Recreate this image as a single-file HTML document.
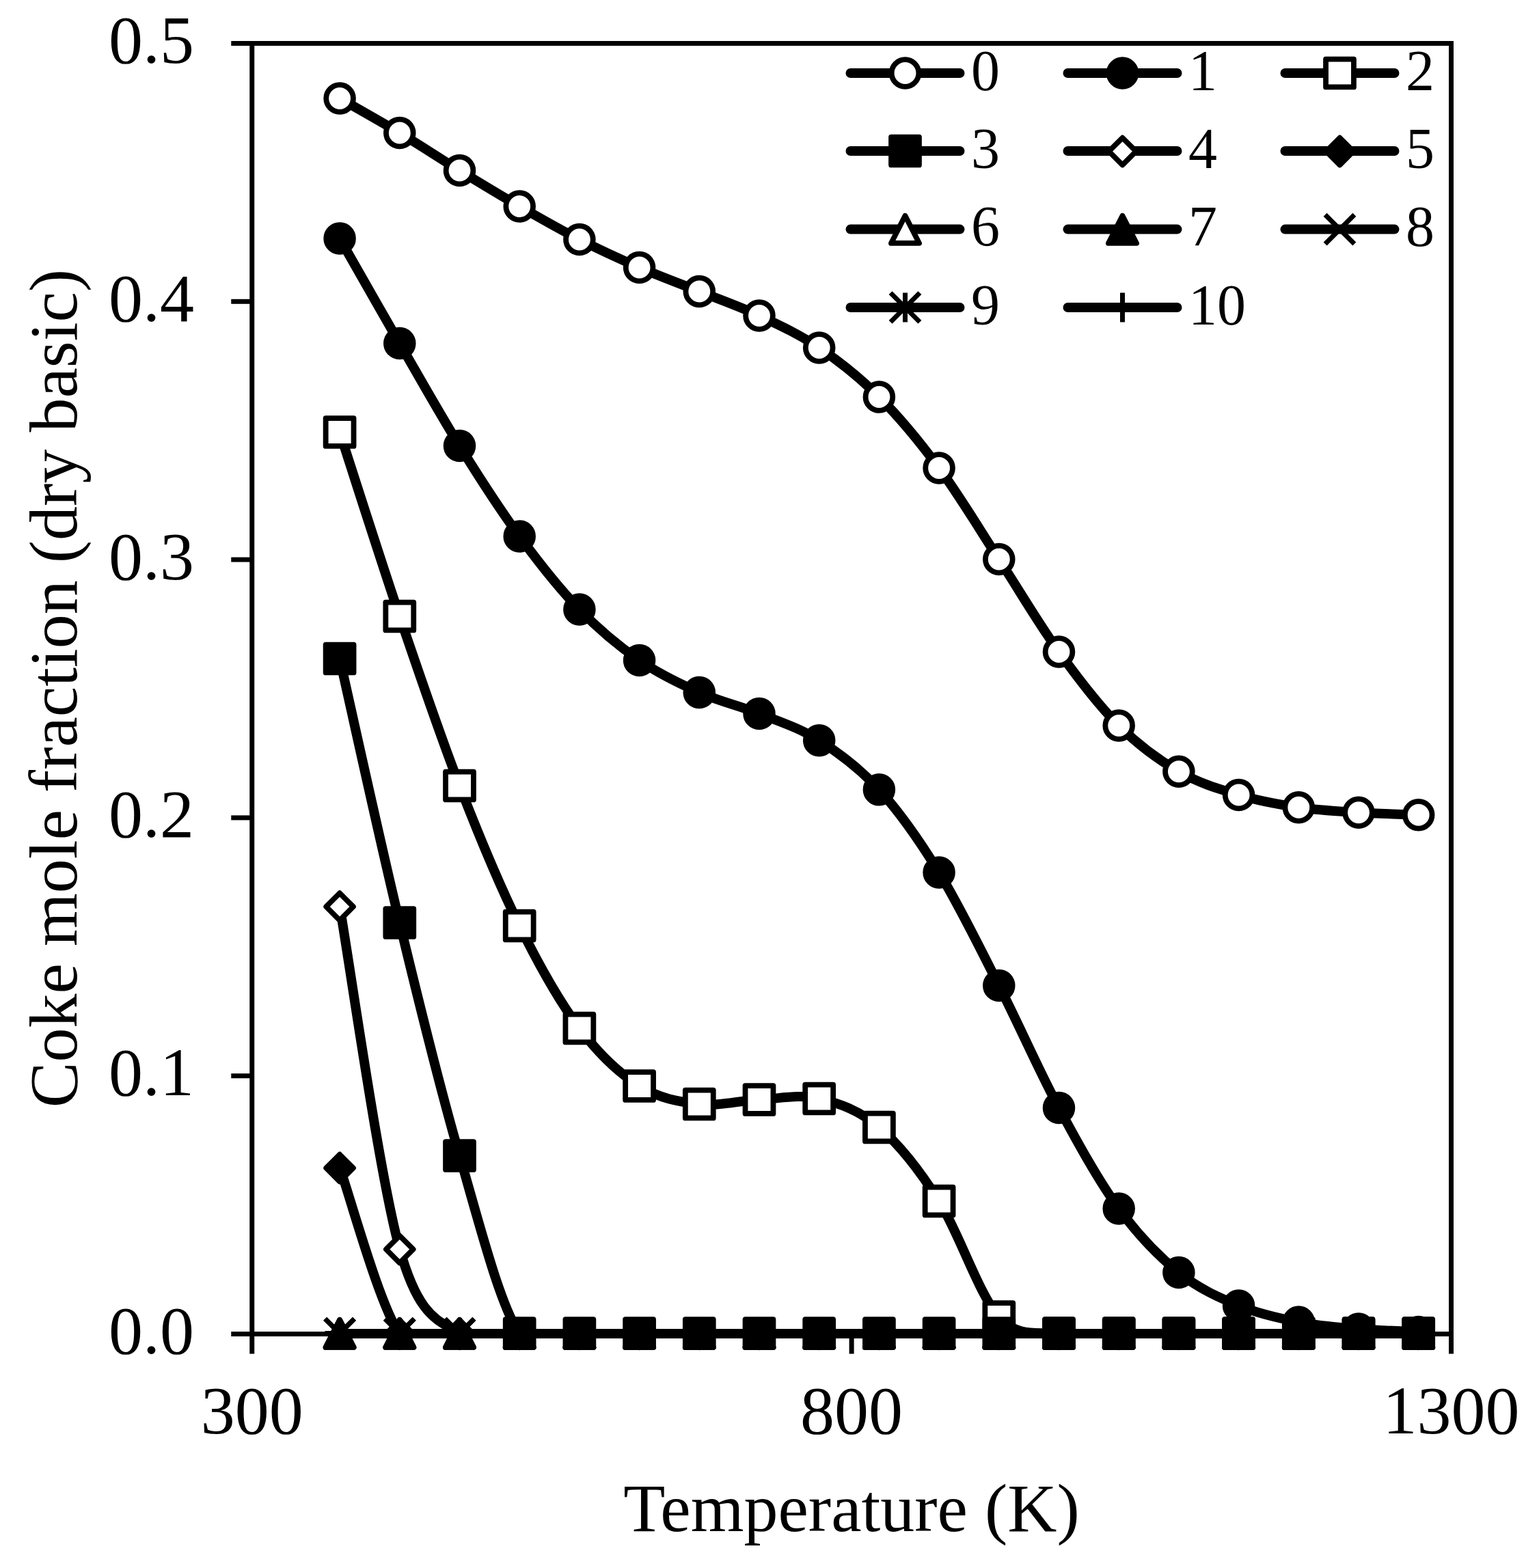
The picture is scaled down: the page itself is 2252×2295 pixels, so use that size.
<!DOCTYPE html>
<html lang="en"><head><meta charset="utf-8"><title>Coke mole fraction vs temperature</title>
<style>
html,body{margin:0;padding:0;background:#fff;}
body{width:2252px;height:2295px;overflow:hidden;}
svg{display:block;}
text{font-family:"Liberation Serif","Times New Roman",Times,serif;fill:#000;}
.ax{stroke:#000;stroke-width:7;fill:none;stroke-linecap:butt;}
.ln{stroke:#000;stroke-width:14;fill:none;stroke-linecap:round;stroke-linejoin:round;}
.lgl{stroke-width:14;}
.mo{stroke:#000;stroke-width:7.8;fill:#fff;stroke-linejoin:round;}
.mf{stroke:#000;stroke-width:7.8;fill:#000;stroke-linejoin:round;}
.ms{stroke:#000;stroke-width:7;fill:none;stroke-linecap:butt;}
.mp{stroke:#000;stroke-width:7;fill:none;stroke-linecap:butt;}
.tl{font-size:100px;}
.at{font-size:100px;}
.lg{font-size:84px;}
</style></head><body>
<svg width="2252" height="2295" viewBox="0 0 2252 2295">
<rect x="0" y="0" width="2252" height="2295" fill="#fff"/>
<g id="axes">
<path class="ax" d="M338.25 63.5H2127"/>
<path class="ax" d="M338.25 1952.5H2127"/>
<path class="ax" d="M368.75 60V1981.5"/>
<path class="ax" d="M2123.5 60V1981.5"/>
<path class="ax" d="M338.25 441.3H368.75"/>
<path class="ax" d="M338.25 819.1H368.75"/>
<path class="ax" d="M338.25 1196.9H368.75"/>
<path class="ax" d="M338.25 1574.7H368.75"/>
<path class="ax" d="M1246.12 1952.5V1981.5"/>
</g>
<g id="ticklabels" class="tl">
<text x="284" y="92" text-anchor="end">0.5</text>
<text x="284" y="469.8" text-anchor="end">0.4</text>
<text x="284" y="847.6" text-anchor="end">0.3</text>
<text x="284" y="1225.4" text-anchor="end">0.2</text>
<text x="284" y="1603.2" text-anchor="end">0.1</text>
<text x="284" y="1981" text-anchor="end">0.0</text>
<text x="368.75" y="2098" text-anchor="middle">300</text>
<text x="1246.12" y="2098" text-anchor="middle">800</text>
<text x="2123.5" y="2098" text-anchor="middle">1300</text>
</g>
<g id="titles" class="at">
<text x="1246" y="2240.5" text-anchor="middle">Temperature (K)</text>
<text transform="translate(112 1007.5) rotate(-90)" text-anchor="middle">Coke mole fraction (dry basic)</text>
</g>
<defs><clipPath id="plotclip"><rect x="368.75" y="63.5" width="1754.75" height="1895.25"/></clipPath></defs>
<g id="series0">
<path class="ln" clip-path="url(#plotclip)" d="M497.1 144C511.72 152.42 555.57 176.92 584.8 194.5C614.03 212.08 643.27 231.58 672.5 249.5C701.73 267.42 730.97 285.17 760.2 302C789.43 318.83 818.67 335.58 847.9 350.5C877.13 365.42 906.37 378.83 935.6 391.5C964.83 404.17 994.07 414.75 1023.3 426.5C1052.53 438.25 1081.77 448.25 1111 462C1140.23 475.75 1169.47 489.17 1198.7 509C1227.93 528.83 1257.17 551.67 1286.4 581C1315.63 610.33 1344.87 645.42 1374.1 685C1403.33 724.58 1432.57 773.67 1461.8 818.5C1491.03 863.33 1520.27 913.42 1549.5 954C1578.73 994.58 1607.97 1032.79 1637.2 1062C1666.43 1091.21 1695.67 1112.33 1724.9 1129.25C1754.13 1146.17 1783.37 1154.75 1812.6 1163.5C1841.83 1172.25 1871.07 1177.46 1900.3 1181.75C1929.53 1186.04 1958.77 1187.42 1988 1189.25C2017.23 1191.08 2061.08 1192.17 2075.7 1192.75"/>
<circle cx="497.1" cy="144" r="19.85" class="mo"/>
<circle cx="584.8" cy="194.5" r="19.85" class="mo"/>
<circle cx="672.5" cy="249.5" r="19.85" class="mo"/>
<circle cx="760.2" cy="302" r="19.85" class="mo"/>
<circle cx="847.9" cy="350.5" r="19.85" class="mo"/>
<circle cx="935.6" cy="391.5" r="19.85" class="mo"/>
<circle cx="1023.3" cy="426.5" r="19.85" class="mo"/>
<circle cx="1111" cy="462" r="19.85" class="mo"/>
<circle cx="1198.7" cy="509" r="19.85" class="mo"/>
<circle cx="1286.4" cy="581" r="19.85" class="mo"/>
<circle cx="1374.1" cy="685" r="19.85" class="mo"/>
<circle cx="1461.8" cy="818.5" r="19.85" class="mo"/>
<circle cx="1549.5" cy="954" r="19.85" class="mo"/>
<circle cx="1637.2" cy="1062" r="19.85" class="mo"/>
<circle cx="1724.9" cy="1129.25" r="19.85" class="mo"/>
<circle cx="1812.6" cy="1163.5" r="19.85" class="mo"/>
<circle cx="1900.3" cy="1181.75" r="19.85" class="mo"/>
<circle cx="1988" cy="1189.25" r="19.85" class="mo"/>
<circle cx="2075.7" cy="1192.75" r="19.85" class="mo"/>
</g>
<g id="series1">
<path class="ln" clip-path="url(#plotclip)" d="M497.1 349C511.72 374.58 555.57 451.92 584.8 502.5C614.03 553.08 643.27 605.42 672.5 652.5C701.73 699.58 730.97 745.08 760.2 785C789.43 824.92 818.67 861.75 847.9 892C877.13 922.25 906.37 946.25 935.6 966.5C964.83 986.75 994.07 1000.5 1023.3 1013.5C1052.53 1026.5 1081.77 1032.79 1111 1044.5C1140.23 1056.21 1169.47 1065.21 1198.7 1083.75C1227.93 1102.29 1257.17 1123.54 1286.4 1155.75C1315.63 1187.96 1344.87 1229.21 1374.1 1277C1403.33 1324.79 1432.57 1385.08 1461.8 1442.5C1491.03 1499.92 1520.27 1567.08 1549.5 1621.5C1578.73 1675.92 1607.97 1728.83 1637.2 1769C1666.43 1809.17 1695.67 1838.83 1724.9 1862.5C1754.13 1886.17 1783.37 1898.92 1812.6 1911C1841.83 1923.08 1871.07 1929.33 1900.3 1935C1929.53 1940.67 1958.77 1942.58 1988 1945C2017.23 1947.42 2061.08 1948.75 2075.7 1949.5"/>
<circle cx="497.1" cy="349" r="19.85" class="mf"/>
<circle cx="584.8" cy="502.5" r="19.85" class="mf"/>
<circle cx="672.5" cy="652.5" r="19.85" class="mf"/>
<circle cx="760.2" cy="785" r="19.85" class="mf"/>
<circle cx="847.9" cy="892" r="19.85" class="mf"/>
<circle cx="935.6" cy="966.5" r="19.85" class="mf"/>
<circle cx="1023.3" cy="1013.5" r="19.85" class="mf"/>
<circle cx="1111" cy="1044.5" r="19.85" class="mf"/>
<circle cx="1198.7" cy="1083.75" r="19.85" class="mf"/>
<circle cx="1286.4" cy="1155.75" r="19.85" class="mf"/>
<circle cx="1374.1" cy="1277" r="19.85" class="mf"/>
<circle cx="1461.8" cy="1442.5" r="19.85" class="mf"/>
<circle cx="1549.5" cy="1621.5" r="19.85" class="mf"/>
<circle cx="1637.2" cy="1769" r="19.85" class="mf"/>
<circle cx="1724.9" cy="1862.5" r="19.85" class="mf"/>
<circle cx="1812.6" cy="1911" r="19.85" class="mf"/>
<circle cx="1900.3" cy="1935" r="19.85" class="mf"/>
<circle cx="1988" cy="1945" r="19.85" class="mf"/>
<circle cx="2075.7" cy="1949.5" r="19.85" class="mf"/>
</g>
<g id="series2">
<path class="ln" clip-path="url(#plotclip)" d="M497.1 632.5C511.72 677.42 555.57 815.75 584.8 902C614.03 988.25 643.27 1074.5 672.5 1150C701.73 1225.5 730.97 1295.83 760.2 1355C789.43 1414.17 818.67 1465.92 847.9 1505C877.13 1544.08 906.37 1571 935.6 1589.5C964.83 1608 994.07 1612.67 1023.3 1616C1052.53 1619.33 1081.77 1610.83 1111 1609.5C1140.23 1608.17 1169.47 1601.25 1198.7 1608C1227.93 1614.75 1257.17 1625 1286.4 1650C1315.63 1675 1344.87 1711.75 1374.1 1758C1403.33 1804.25 1432.57 1895.12 1461.8 1927.5C1491.03 1959.88 1520.27 1948.12 1549.5 1952.25C1578.73 1956.38 1607.97 1952.25 1637.2 1952.25C1666.43 1952.25 1695.67 1952.25 1724.9 1952.25C1754.13 1952.25 1783.37 1952.25 1812.6 1952.25C1841.83 1952.25 1871.07 1952.25 1900.3 1952.25C1929.53 1952.25 1958.77 1952.25 1988 1952.25C2017.23 1952.25 2061.08 1952.25 2075.7 1952.25"/>
<rect x="476.65" y="612.05" width="40.9" height="40.9" class="mo"/>
<rect x="564.35" y="881.55" width="40.9" height="40.9" class="mo"/>
<rect x="652.05" y="1129.55" width="40.9" height="40.9" class="mo"/>
<rect x="739.75" y="1334.55" width="40.9" height="40.9" class="mo"/>
<rect x="827.45" y="1484.55" width="40.9" height="40.9" class="mo"/>
<rect x="915.15" y="1569.05" width="40.9" height="40.9" class="mo"/>
<rect x="1002.85" y="1595.55" width="40.9" height="40.9" class="mo"/>
<rect x="1090.55" y="1589.05" width="40.9" height="40.9" class="mo"/>
<rect x="1178.25" y="1587.55" width="40.9" height="40.9" class="mo"/>
<rect x="1265.95" y="1629.55" width="40.9" height="40.9" class="mo"/>
<rect x="1353.65" y="1737.55" width="40.9" height="40.9" class="mo"/>
<rect x="1441.35" y="1907.05" width="40.9" height="40.9" class="mo"/>
<rect x="1529.05" y="1931.15" width="40.9" height="40.9" class="mo"/>
<rect x="1616.75" y="1931.15" width="40.9" height="40.9" class="mo"/>
<rect x="1704.45" y="1931.15" width="40.9" height="40.9" class="mo"/>
<rect x="1792.15" y="1931.15" width="40.9" height="40.9" class="mo"/>
<rect x="1879.85" y="1931.15" width="40.9" height="40.9" class="mo"/>
<rect x="1967.55" y="1931.15" width="40.9" height="40.9" class="mo"/>
<rect x="2055.25" y="1931.15" width="40.9" height="40.9" class="mo"/>
</g>
<g id="series3">
<path class="ln" clip-path="url(#plotclip)" d="M497.1 964C511.72 1028.42 555.57 1229.25 584.8 1350.5C614.03 1471.75 643.27 1591.21 672.5 1691.5C701.73 1791.79 730.97 1908.79 760.2 1952.25C789.43 1995.71 818.67 1952.25 847.9 1952.25C877.13 1952.25 906.37 1952.25 935.6 1952.25C964.83 1952.25 994.07 1952.25 1023.3 1952.25C1052.53 1952.25 1081.77 1952.25 1111 1952.25C1140.23 1952.25 1169.47 1952.25 1198.7 1952.25C1227.93 1952.25 1257.17 1952.25 1286.4 1952.25C1315.63 1952.25 1344.87 1952.25 1374.1 1952.25C1403.33 1952.25 1432.57 1952.25 1461.8 1952.25C1491.03 1952.25 1520.27 1952.25 1549.5 1952.25C1578.73 1952.25 1607.97 1952.25 1637.2 1952.25C1666.43 1952.25 1695.67 1952.25 1724.9 1952.25C1754.13 1952.25 1783.37 1952.25 1812.6 1952.25C1841.83 1952.25 1871.07 1952.25 1900.3 1952.25C1929.53 1952.25 1958.77 1952.25 1988 1952.25C2017.23 1952.25 2061.08 1952.25 2075.7 1952.25"/>
<rect x="476.65" y="943.55" width="40.9" height="40.9" class="mf"/>
<rect x="564.35" y="1330.05" width="40.9" height="40.9" class="mf"/>
<rect x="652.05" y="1671.05" width="40.9" height="40.9" class="mf"/>
<rect x="739.75" y="1931.15" width="40.9" height="40.9" class="mf"/>
<rect x="827.45" y="1931.15" width="40.9" height="40.9" class="mf"/>
<rect x="915.15" y="1931.15" width="40.9" height="40.9" class="mf"/>
<rect x="1002.85" y="1931.15" width="40.9" height="40.9" class="mf"/>
<rect x="1090.55" y="1931.15" width="40.9" height="40.9" class="mf"/>
<rect x="1178.25" y="1931.15" width="40.9" height="40.9" class="mf"/>
<rect x="1265.95" y="1931.15" width="40.9" height="40.9" class="mf"/>
<rect x="1353.65" y="1931.15" width="40.9" height="40.9" class="mf"/>
<rect x="1441.35" y="1931.15" width="40.9" height="40.9" class="mf"/>
<rect x="1529.05" y="1931.15" width="40.9" height="40.9" class="mf"/>
<rect x="1616.75" y="1931.15" width="40.9" height="40.9" class="mf"/>
<rect x="1704.45" y="1931.15" width="40.9" height="40.9" class="mf"/>
<rect x="1792.15" y="1931.15" width="40.9" height="40.9" class="mf"/>
<rect x="1879.85" y="1931.15" width="40.9" height="40.9" class="mf"/>
<rect x="1967.55" y="1931.15" width="40.9" height="40.9" class="mf"/>
<rect x="2055.25" y="1931.15" width="40.9" height="40.9" class="mf"/>
</g>
<g id="series4">
<path class="ln" clip-path="url(#plotclip)" d="M497.1 1326.5C511.72 1410.08 555.57 1723.71 584.8 1828C614.03 1932.29 643.27 1931.54 672.5 1952.25C701.73 1972.96 730.97 1952.25 760.2 1952.25C789.43 1952.25 818.67 1952.25 847.9 1952.25C877.13 1952.25 906.37 1952.25 935.6 1952.25C964.83 1952.25 994.07 1952.25 1023.3 1952.25C1052.53 1952.25 1081.77 1952.25 1111 1952.25C1140.23 1952.25 1169.47 1952.25 1198.7 1952.25C1227.93 1952.25 1257.17 1952.25 1286.4 1952.25C1315.63 1952.25 1344.87 1952.25 1374.1 1952.25C1403.33 1952.25 1432.57 1952.25 1461.8 1952.25C1491.03 1952.25 1520.27 1952.25 1549.5 1952.25C1578.73 1952.25 1607.97 1952.25 1637.2 1952.25C1666.43 1952.25 1695.67 1952.25 1724.9 1952.25C1754.13 1952.25 1783.37 1952.25 1812.6 1952.25C1841.83 1952.25 1871.07 1952.25 1900.3 1952.25C1929.53 1952.25 1958.77 1952.25 1988 1952.25C2017.23 1952.25 2061.08 1952.25 2075.7 1952.25"/>
<path d="M497.1 1307.25L516.95 1327.1L497.1 1346.95L477.25 1327.1Z" class="mo"/>
<path d="M584.8 1808.75L604.65 1828.6L584.8 1848.45L564.95 1828.6Z" class="mo"/>
<path d="M672.5 1932.35L692.35 1952.2L672.5 1972.05L652.65 1952.2Z" class="mo"/>
<path d="M760.2 1932.35L780.05 1952.2L760.2 1972.05L740.35 1952.2Z" class="mo"/>
<path d="M847.9 1932.35L867.75 1952.2L847.9 1972.05L828.05 1952.2Z" class="mo"/>
<path d="M935.6 1932.35L955.45 1952.2L935.6 1972.05L915.75 1952.2Z" class="mo"/>
<path d="M1023.3 1932.35L1043.15 1952.2L1023.3 1972.05L1003.45 1952.2Z" class="mo"/>
<path d="M1111 1932.35L1130.85 1952.2L1111 1972.05L1091.15 1952.2Z" class="mo"/>
<path d="M1198.7 1932.35L1218.55 1952.2L1198.7 1972.05L1178.85 1952.2Z" class="mo"/>
<path d="M1286.4 1932.35L1306.25 1952.2L1286.4 1972.05L1266.55 1952.2Z" class="mo"/>
<path d="M1374.1 1932.35L1393.95 1952.2L1374.1 1972.05L1354.25 1952.2Z" class="mo"/>
<path d="M1461.8 1932.35L1481.65 1952.2L1461.8 1972.05L1441.95 1952.2Z" class="mo"/>
<path d="M1549.5 1932.35L1569.35 1952.2L1549.5 1972.05L1529.65 1952.2Z" class="mo"/>
<path d="M1637.2 1932.35L1657.05 1952.2L1637.2 1972.05L1617.35 1952.2Z" class="mo"/>
<path d="M1724.9 1932.35L1744.75 1952.2L1724.9 1972.05L1705.05 1952.2Z" class="mo"/>
<path d="M1812.6 1932.35L1832.45 1952.2L1812.6 1972.05L1792.75 1952.2Z" class="mo"/>
<path d="M1900.3 1932.35L1920.15 1952.2L1900.3 1972.05L1880.45 1952.2Z" class="mo"/>
<path d="M1988 1932.35L2007.85 1952.2L1988 1972.05L1968.15 1952.2Z" class="mo"/>
<path d="M2075.7 1932.35L2095.55 1952.2L2075.7 1972.05L2055.85 1952.2Z" class="mo"/>
</g>
<g id="series5">
<path class="ln" clip-path="url(#plotclip)" d="M497.1 1709C511.72 1749.54 555.57 1911.71 584.8 1952.25C614.03 1992.79 643.27 1952.25 672.5 1952.25C701.73 1952.25 730.97 1952.25 760.2 1952.25C789.43 1952.25 818.67 1952.25 847.9 1952.25C877.13 1952.25 906.37 1952.25 935.6 1952.25C964.83 1952.25 994.07 1952.25 1023.3 1952.25C1052.53 1952.25 1081.77 1952.25 1111 1952.25C1140.23 1952.25 1169.47 1952.25 1198.7 1952.25C1227.93 1952.25 1257.17 1952.25 1286.4 1952.25C1315.63 1952.25 1344.87 1952.25 1374.1 1952.25C1403.33 1952.25 1432.57 1952.25 1461.8 1952.25C1491.03 1952.25 1520.27 1952.25 1549.5 1952.25C1578.73 1952.25 1607.97 1952.25 1637.2 1952.25C1666.43 1952.25 1695.67 1952.25 1724.9 1952.25C1754.13 1952.25 1783.37 1952.25 1812.6 1952.25C1841.83 1952.25 1871.07 1952.25 1900.3 1952.25C1929.53 1952.25 1958.77 1952.25 1988 1952.25C2017.23 1952.25 2061.08 1952.25 2075.7 1952.25"/>
<path d="M497.1 1689.75L516.95 1709.6L497.1 1729.45L477.25 1709.6Z" class="mf"/>
<path d="M584.8 1932.35L604.65 1952.2L584.8 1972.05L564.95 1952.2Z" class="mf"/>
<path d="M672.5 1932.35L692.35 1952.2L672.5 1972.05L652.65 1952.2Z" class="mf"/>
<path d="M760.2 1932.35L780.05 1952.2L760.2 1972.05L740.35 1952.2Z" class="mf"/>
<path d="M847.9 1932.35L867.75 1952.2L847.9 1972.05L828.05 1952.2Z" class="mf"/>
<path d="M935.6 1932.35L955.45 1952.2L935.6 1972.05L915.75 1952.2Z" class="mf"/>
<path d="M1023.3 1932.35L1043.15 1952.2L1023.3 1972.05L1003.45 1952.2Z" class="mf"/>
<path d="M1111 1932.35L1130.85 1952.2L1111 1972.05L1091.15 1952.2Z" class="mf"/>
<path d="M1198.7 1932.35L1218.55 1952.2L1198.7 1972.05L1178.85 1952.2Z" class="mf"/>
<path d="M1286.4 1932.35L1306.25 1952.2L1286.4 1972.05L1266.55 1952.2Z" class="mf"/>
<path d="M1374.1 1932.35L1393.95 1952.2L1374.1 1972.05L1354.25 1952.2Z" class="mf"/>
<path d="M1461.8 1932.35L1481.65 1952.2L1461.8 1972.05L1441.95 1952.2Z" class="mf"/>
<path d="M1549.5 1932.35L1569.35 1952.2L1549.5 1972.05L1529.65 1952.2Z" class="mf"/>
<path d="M1637.2 1932.35L1657.05 1952.2L1637.2 1972.05L1617.35 1952.2Z" class="mf"/>
<path d="M1724.9 1932.35L1744.75 1952.2L1724.9 1972.05L1705.05 1952.2Z" class="mf"/>
<path d="M1812.6 1932.35L1832.45 1952.2L1812.6 1972.05L1792.75 1952.2Z" class="mf"/>
<path d="M1900.3 1932.35L1920.15 1952.2L1900.3 1972.05L1880.45 1952.2Z" class="mf"/>
<path d="M1988 1932.35L2007.85 1952.2L1988 1972.05L1968.15 1952.2Z" class="mf"/>
<path d="M2075.7 1932.35L2095.55 1952.2L2075.7 1972.05L2055.85 1952.2Z" class="mf"/>
</g>
<g id="series6">
<path class="ln" clip-path="url(#plotclip)" d="M497.1 1952.25C511.72 1952.25 555.57 1952.25 584.8 1952.25C614.03 1952.25 643.27 1952.25 672.5 1952.25C701.73 1952.25 730.97 1952.25 760.2 1952.25C789.43 1952.25 818.67 1952.25 847.9 1952.25C877.13 1952.25 906.37 1952.25 935.6 1952.25C964.83 1952.25 994.07 1952.25 1023.3 1952.25C1052.53 1952.25 1081.77 1952.25 1111 1952.25C1140.23 1952.25 1169.47 1952.25 1198.7 1952.25C1227.93 1952.25 1257.17 1952.25 1286.4 1952.25C1315.63 1952.25 1344.87 1952.25 1374.1 1952.25C1403.33 1952.25 1432.57 1952.25 1461.8 1952.25C1491.03 1952.25 1520.27 1952.25 1549.5 1952.25C1578.73 1952.25 1607.97 1952.25 1637.2 1952.25C1666.43 1952.25 1695.67 1952.25 1724.9 1952.25C1754.13 1952.25 1783.37 1952.25 1812.6 1952.25C1841.83 1952.25 1871.07 1952.25 1900.3 1952.25C1929.53 1952.25 1958.77 1952.25 1988 1952.25C2017.23 1952.25 2061.08 1952.25 2075.7 1952.25"/>
<path d="M497.1 1931.75L517.65 1971.95L476.55 1971.95Z" class="mo"/>
<path d="M584.8 1931.75L605.35 1971.95L564.25 1971.95Z" class="mo"/>
<path d="M672.5 1931.75L693.05 1971.95L651.95 1971.95Z" class="mo"/>
<path d="M760.2 1931.75L780.75 1971.95L739.65 1971.95Z" class="mo"/>
<path d="M847.9 1931.75L868.45 1971.95L827.35 1971.95Z" class="mo"/>
<path d="M935.6 1931.75L956.15 1971.95L915.05 1971.95Z" class="mo"/>
<path d="M1023.3 1931.75L1043.85 1971.95L1002.75 1971.95Z" class="mo"/>
<path d="M1111 1931.75L1131.55 1971.95L1090.45 1971.95Z" class="mo"/>
<path d="M1198.7 1931.75L1219.25 1971.95L1178.15 1971.95Z" class="mo"/>
<path d="M1286.4 1931.75L1306.95 1971.95L1265.85 1971.95Z" class="mo"/>
<path d="M1374.1 1931.75L1394.65 1971.95L1353.55 1971.95Z" class="mo"/>
<path d="M1461.8 1931.75L1482.35 1971.95L1441.25 1971.95Z" class="mo"/>
<path d="M1549.5 1931.75L1570.05 1971.95L1528.95 1971.95Z" class="mo"/>
<path d="M1637.2 1931.75L1657.75 1971.95L1616.65 1971.95Z" class="mo"/>
<path d="M1724.9 1931.75L1745.45 1971.95L1704.35 1971.95Z" class="mo"/>
<path d="M1812.6 1931.75L1833.15 1971.95L1792.05 1971.95Z" class="mo"/>
<path d="M1900.3 1931.75L1920.85 1971.95L1879.75 1971.95Z" class="mo"/>
<path d="M1988 1931.75L2008.55 1971.95L1967.45 1971.95Z" class="mo"/>
<path d="M2075.7 1931.75L2096.25 1971.95L2055.15 1971.95Z" class="mo"/>
</g>
<g id="series7">
<path class="ln" clip-path="url(#plotclip)" d="M497.1 1952.25C511.72 1952.25 555.57 1952.25 584.8 1952.25C614.03 1952.25 643.27 1952.25 672.5 1952.25C701.73 1952.25 730.97 1952.25 760.2 1952.25C789.43 1952.25 818.67 1952.25 847.9 1952.25C877.13 1952.25 906.37 1952.25 935.6 1952.25C964.83 1952.25 994.07 1952.25 1023.3 1952.25C1052.53 1952.25 1081.77 1952.25 1111 1952.25C1140.23 1952.25 1169.47 1952.25 1198.7 1952.25C1227.93 1952.25 1257.17 1952.25 1286.4 1952.25C1315.63 1952.25 1344.87 1952.25 1374.1 1952.25C1403.33 1952.25 1432.57 1952.25 1461.8 1952.25C1491.03 1952.25 1520.27 1952.25 1549.5 1952.25C1578.73 1952.25 1607.97 1952.25 1637.2 1952.25C1666.43 1952.25 1695.67 1952.25 1724.9 1952.25C1754.13 1952.25 1783.37 1952.25 1812.6 1952.25C1841.83 1952.25 1871.07 1952.25 1900.3 1952.25C1929.53 1952.25 1958.77 1952.25 1988 1952.25C2017.23 1952.25 2061.08 1952.25 2075.7 1952.25"/>
<path d="M497.1 1931.75L517.65 1971.95L476.55 1971.95Z" class="mf"/>
<path d="M584.8 1931.75L605.35 1971.95L564.25 1971.95Z" class="mf"/>
<path d="M672.5 1931.75L693.05 1971.95L651.95 1971.95Z" class="mf"/>
<path d="M760.2 1931.75L780.75 1971.95L739.65 1971.95Z" class="mf"/>
<path d="M847.9 1931.75L868.45 1971.95L827.35 1971.95Z" class="mf"/>
<path d="M935.6 1931.75L956.15 1971.95L915.05 1971.95Z" class="mf"/>
<path d="M1023.3 1931.75L1043.85 1971.95L1002.75 1971.95Z" class="mf"/>
<path d="M1111 1931.75L1131.55 1971.95L1090.45 1971.95Z" class="mf"/>
<path d="M1198.7 1931.75L1219.25 1971.95L1178.15 1971.95Z" class="mf"/>
<path d="M1286.4 1931.75L1306.95 1971.95L1265.85 1971.95Z" class="mf"/>
<path d="M1374.1 1931.75L1394.65 1971.95L1353.55 1971.95Z" class="mf"/>
<path d="M1461.8 1931.75L1482.35 1971.95L1441.25 1971.95Z" class="mf"/>
<path d="M1549.5 1931.75L1570.05 1971.95L1528.95 1971.95Z" class="mf"/>
<path d="M1637.2 1931.75L1657.75 1971.95L1616.65 1971.95Z" class="mf"/>
<path d="M1724.9 1931.75L1745.45 1971.95L1704.35 1971.95Z" class="mf"/>
<path d="M1812.6 1931.75L1833.15 1971.95L1792.05 1971.95Z" class="mf"/>
<path d="M1900.3 1931.75L1920.85 1971.95L1879.75 1971.95Z" class="mf"/>
<path d="M1988 1931.75L2008.55 1971.95L1967.45 1971.95Z" class="mf"/>
<path d="M2075.7 1931.75L2096.25 1971.95L2055.15 1971.95Z" class="mf"/>
</g>
<g id="series8">
<path class="ln" clip-path="url(#plotclip)" d="M497.1 1952.25C511.72 1952.25 555.57 1952.25 584.8 1952.25C614.03 1952.25 643.27 1952.25 672.5 1952.25C701.73 1952.25 730.97 1952.25 760.2 1952.25C789.43 1952.25 818.67 1952.25 847.9 1952.25C877.13 1952.25 906.37 1952.25 935.6 1952.25C964.83 1952.25 994.07 1952.25 1023.3 1952.25C1052.53 1952.25 1081.77 1952.25 1111 1952.25C1140.23 1952.25 1169.47 1952.25 1198.7 1952.25C1227.93 1952.25 1257.17 1952.25 1286.4 1952.25C1315.63 1952.25 1344.87 1952.25 1374.1 1952.25C1403.33 1952.25 1432.57 1952.25 1461.8 1952.25C1491.03 1952.25 1520.27 1952.25 1549.5 1952.25C1578.73 1952.25 1607.97 1952.25 1637.2 1952.25C1666.43 1952.25 1695.67 1952.25 1724.9 1952.25C1754.13 1952.25 1783.37 1952.25 1812.6 1952.25C1841.83 1952.25 1871.07 1952.25 1900.3 1952.25C1929.53 1952.25 1958.77 1952.25 1988 1952.25C2017.23 1952.25 2061.08 1952.25 2075.7 1952.25"/>
<path d="M475.7 1930.2L518.5 1973M475.7 1973L518.5 1930.2" class="ms"/>
<path d="M563.4 1930.2L606.2 1973M563.4 1973L606.2 1930.2" class="ms"/>
<path d="M651.1 1930.2L693.9 1973M651.1 1973L693.9 1930.2" class="ms"/>
<path d="M738.8 1930.2L781.6 1973M738.8 1973L781.6 1930.2" class="ms"/>
<path d="M826.5 1930.2L869.3 1973M826.5 1973L869.3 1930.2" class="ms"/>
<path d="M914.2 1930.2L957 1973M914.2 1973L957 1930.2" class="ms"/>
<path d="M1001.9 1930.2L1044.7 1973M1001.9 1973L1044.7 1930.2" class="ms"/>
<path d="M1089.6 1930.2L1132.4 1973M1089.6 1973L1132.4 1930.2" class="ms"/>
<path d="M1177.3 1930.2L1220.1 1973M1177.3 1973L1220.1 1930.2" class="ms"/>
<path d="M1265 1930.2L1307.8 1973M1265 1973L1307.8 1930.2" class="ms"/>
<path d="M1352.7 1930.2L1395.5 1973M1352.7 1973L1395.5 1930.2" class="ms"/>
<path d="M1440.4 1930.2L1483.2 1973M1440.4 1973L1483.2 1930.2" class="ms"/>
<path d="M1528.1 1930.2L1570.9 1973M1528.1 1973L1570.9 1930.2" class="ms"/>
<path d="M1615.8 1930.2L1658.6 1973M1615.8 1973L1658.6 1930.2" class="ms"/>
<path d="M1703.5 1930.2L1746.3 1973M1703.5 1973L1746.3 1930.2" class="ms"/>
<path d="M1791.2 1930.2L1834 1973M1791.2 1973L1834 1930.2" class="ms"/>
<path d="M1878.9 1930.2L1921.7 1973M1878.9 1973L1921.7 1930.2" class="ms"/>
<path d="M1966.6 1930.2L2009.4 1973M1966.6 1973L2009.4 1930.2" class="ms"/>
<path d="M2054.3 1930.2L2097.1 1973M2054.3 1973L2097.1 1930.2" class="ms"/>
</g>
<g id="series9">
<path class="ln" clip-path="url(#plotclip)" d="M497.1 1952.25C511.72 1952.25 555.57 1952.25 584.8 1952.25C614.03 1952.25 643.27 1952.25 672.5 1952.25C701.73 1952.25 730.97 1952.25 760.2 1952.25C789.43 1952.25 818.67 1952.25 847.9 1952.25C877.13 1952.25 906.37 1952.25 935.6 1952.25C964.83 1952.25 994.07 1952.25 1023.3 1952.25C1052.53 1952.25 1081.77 1952.25 1111 1952.25C1140.23 1952.25 1169.47 1952.25 1198.7 1952.25C1227.93 1952.25 1257.17 1952.25 1286.4 1952.25C1315.63 1952.25 1344.87 1952.25 1374.1 1952.25C1403.33 1952.25 1432.57 1952.25 1461.8 1952.25C1491.03 1952.25 1520.27 1952.25 1549.5 1952.25C1578.73 1952.25 1607.97 1952.25 1637.2 1952.25C1666.43 1952.25 1695.67 1952.25 1724.9 1952.25C1754.13 1952.25 1783.37 1952.25 1812.6 1952.25C1841.83 1952.25 1871.07 1952.25 1900.3 1952.25C1929.53 1952.25 1958.77 1952.25 1988 1952.25C2017.23 1952.25 2061.08 1952.25 2075.7 1952.25"/>
<path d="M475.7 1930.2L518.5 1973M475.7 1973L518.5 1930.2M497.1 1930L497.1 1973.2" class="ms"/>
<path d="M563.4 1930.2L606.2 1973M563.4 1973L606.2 1930.2M584.8 1930L584.8 1973.2" class="ms"/>
<path d="M651.1 1930.2L693.9 1973M651.1 1973L693.9 1930.2M672.5 1930L672.5 1973.2" class="ms"/>
<path d="M738.8 1930.2L781.6 1973M738.8 1973L781.6 1930.2M760.2 1930L760.2 1973.2" class="ms"/>
<path d="M826.5 1930.2L869.3 1973M826.5 1973L869.3 1930.2M847.9 1930L847.9 1973.2" class="ms"/>
<path d="M914.2 1930.2L957 1973M914.2 1973L957 1930.2M935.6 1930L935.6 1973.2" class="ms"/>
<path d="M1001.9 1930.2L1044.7 1973M1001.9 1973L1044.7 1930.2M1023.3 1930L1023.3 1973.2" class="ms"/>
<path d="M1089.6 1930.2L1132.4 1973M1089.6 1973L1132.4 1930.2M1111 1930L1111 1973.2" class="ms"/>
<path d="M1177.3 1930.2L1220.1 1973M1177.3 1973L1220.1 1930.2M1198.7 1930L1198.7 1973.2" class="ms"/>
<path d="M1265 1930.2L1307.8 1973M1265 1973L1307.8 1930.2M1286.4 1930L1286.4 1973.2" class="ms"/>
<path d="M1352.7 1930.2L1395.5 1973M1352.7 1973L1395.5 1930.2M1374.1 1930L1374.1 1973.2" class="ms"/>
<path d="M1440.4 1930.2L1483.2 1973M1440.4 1973L1483.2 1930.2M1461.8 1930L1461.8 1973.2" class="ms"/>
<path d="M1528.1 1930.2L1570.9 1973M1528.1 1973L1570.9 1930.2M1549.5 1930L1549.5 1973.2" class="ms"/>
<path d="M1615.8 1930.2L1658.6 1973M1615.8 1973L1658.6 1930.2M1637.2 1930L1637.2 1973.2" class="ms"/>
<path d="M1703.5 1930.2L1746.3 1973M1703.5 1973L1746.3 1930.2M1724.9 1930L1724.9 1973.2" class="ms"/>
<path d="M1791.2 1930.2L1834 1973M1791.2 1973L1834 1930.2M1812.6 1930L1812.6 1973.2" class="ms"/>
<path d="M1878.9 1930.2L1921.7 1973M1878.9 1973L1921.7 1930.2M1900.3 1930L1900.3 1973.2" class="ms"/>
<path d="M1966.6 1930.2L2009.4 1973M1966.6 1973L2009.4 1930.2M1988 1930L1988 1973.2" class="ms"/>
<path d="M2054.3 1930.2L2097.1 1973M2054.3 1973L2097.1 1930.2M2075.7 1930L2075.7 1973.2" class="ms"/>
</g>
<g id="series10">
<path class="ln" clip-path="url(#plotclip)" d="M497.1 1952.25C511.72 1952.25 555.57 1952.25 584.8 1952.25C614.03 1952.25 643.27 1952.25 672.5 1952.25C701.73 1952.25 730.97 1952.25 760.2 1952.25C789.43 1952.25 818.67 1952.25 847.9 1952.25C877.13 1952.25 906.37 1952.25 935.6 1952.25C964.83 1952.25 994.07 1952.25 1023.3 1952.25C1052.53 1952.25 1081.77 1952.25 1111 1952.25C1140.23 1952.25 1169.47 1952.25 1198.7 1952.25C1227.93 1952.25 1257.17 1952.25 1286.4 1952.25C1315.63 1952.25 1344.87 1952.25 1374.1 1952.25C1403.33 1952.25 1432.57 1952.25 1461.8 1952.25C1491.03 1952.25 1520.27 1952.25 1549.5 1952.25C1578.73 1952.25 1607.97 1952.25 1637.2 1952.25C1666.43 1952.25 1695.67 1952.25 1724.9 1952.25C1754.13 1952.25 1783.37 1952.25 1812.6 1952.25C1841.83 1952.25 1871.07 1952.25 1900.3 1952.25C1929.53 1952.25 1958.77 1952.25 1988 1952.25C2017.23 1952.25 2061.08 1952.25 2075.7 1952.25"/>
<path d="M497.1 1930L497.1 1973.2M475.5 1951.6L518.7 1951.6" class="mp"/>
<path d="M584.8 1930L584.8 1973.2M563.2 1951.6L606.4 1951.6" class="mp"/>
<path d="M672.5 1930L672.5 1973.2M650.9 1951.6L694.1 1951.6" class="mp"/>
<path d="M760.2 1930L760.2 1973.2M738.6 1951.6L781.8 1951.6" class="mp"/>
<path d="M847.9 1930L847.9 1973.2M826.3 1951.6L869.5 1951.6" class="mp"/>
<path d="M935.6 1930L935.6 1973.2M914 1951.6L957.2 1951.6" class="mp"/>
<path d="M1023.3 1930L1023.3 1973.2M1001.7 1951.6L1044.9 1951.6" class="mp"/>
<path d="M1111 1930L1111 1973.2M1089.4 1951.6L1132.6 1951.6" class="mp"/>
<path d="M1198.7 1930L1198.7 1973.2M1177.1 1951.6L1220.3 1951.6" class="mp"/>
<path d="M1286.4 1930L1286.4 1973.2M1264.8 1951.6L1308 1951.6" class="mp"/>
<path d="M1374.1 1930L1374.1 1973.2M1352.5 1951.6L1395.7 1951.6" class="mp"/>
<path d="M1461.8 1930L1461.8 1973.2M1440.2 1951.6L1483.4 1951.6" class="mp"/>
<path d="M1549.5 1930L1549.5 1973.2M1527.9 1951.6L1571.1 1951.6" class="mp"/>
<path d="M1637.2 1930L1637.2 1973.2M1615.6 1951.6L1658.8 1951.6" class="mp"/>
<path d="M1724.9 1930L1724.9 1973.2M1703.3 1951.6L1746.5 1951.6" class="mp"/>
<path d="M1812.6 1930L1812.6 1973.2M1791 1951.6L1834.2 1951.6" class="mp"/>
<path d="M1900.3 1930L1900.3 1973.2M1878.7 1951.6L1921.9 1951.6" class="mp"/>
<path d="M1988 1930L1988 1973.2M1966.4 1951.6L2009.6 1951.6" class="mp"/>
<path d="M2075.7 1930L2075.7 1973.2M2054.1 1951.6L2097.3 1951.6" class="mp"/>
</g>
<g id="legend">
<path class="ln lgl" d="M1244.5 107H1404.5"/>
<circle cx="1324.5" cy="107" r="19.85" class="mo"/>
<text class="lg" x="1421" y="131.75">0</text>
<path class="ln lgl" d="M1562.5 107H1722.5"/>
<circle cx="1642.5" cy="107" r="19.85" class="mf"/>
<text class="lg" x="1739" y="131.75">1</text>
<path class="ln lgl" d="M1880.5 107H2040.5"/>
<rect x="1940.05" y="86.55" width="40.9" height="40.9" class="mo"/>
<text class="lg" x="2057" y="131.75">2</text>
<path class="ln lgl" d="M1244.5 221H1404.5"/>
<rect x="1304.05" y="200.55" width="40.9" height="40.9" class="mf"/>
<text class="lg" x="1421" y="245.75">3</text>
<path class="ln lgl" d="M1562.5 221H1722.5"/>
<path d="M1642.5 201.75L1662.35 221.6L1642.5 241.45L1622.65 221.6Z" class="mo"/>
<text class="lg" x="1739" y="245.75">4</text>
<path class="ln lgl" d="M1880.5 221H2040.5"/>
<path d="M1960.5 201.75L1980.35 221.6L1960.5 241.45L1940.65 221.6Z" class="mf"/>
<text class="lg" x="2057" y="245.75">5</text>
<path class="ln lgl" d="M1244.5 335.6H1404.5"/>
<path d="M1324.5 315.75L1345.05 355.95L1303.95 355.95Z" class="mo"/>
<text class="lg" x="1421" y="360.35">6</text>
<path class="ln lgl" d="M1562.5 335.6H1722.5"/>
<path d="M1642.5 315.75L1663.05 355.95L1621.95 355.95Z" class="mf"/>
<text class="lg" x="1739" y="360.35">7</text>
<path class="ln lgl" d="M1880.5 335.6H2040.5"/>
<path d="M1939.1 314.2L1981.9 357M1939.1 357L1981.9 314.2" class="ms"/>
<text class="lg" x="2057" y="360.35">8</text>
<path class="ln lgl" d="M1244.5 450H1404.5"/>
<path d="M1303.1 428.6L1345.9 471.4M1303.1 471.4L1345.9 428.6M1324.5 428.4L1324.5 471.6" class="ms"/>
<text class="lg" x="1421" y="474.75">9</text>
<path class="ln lgl" d="M1562.5 450H1722.5"/>
<path d="M1642.5 428.4L1642.5 471.6M1620.9 450L1664.1 450" class="mp"/>
<text class="lg" x="1739" y="474.75">10</text>
</g>
</svg>
</body></html>
